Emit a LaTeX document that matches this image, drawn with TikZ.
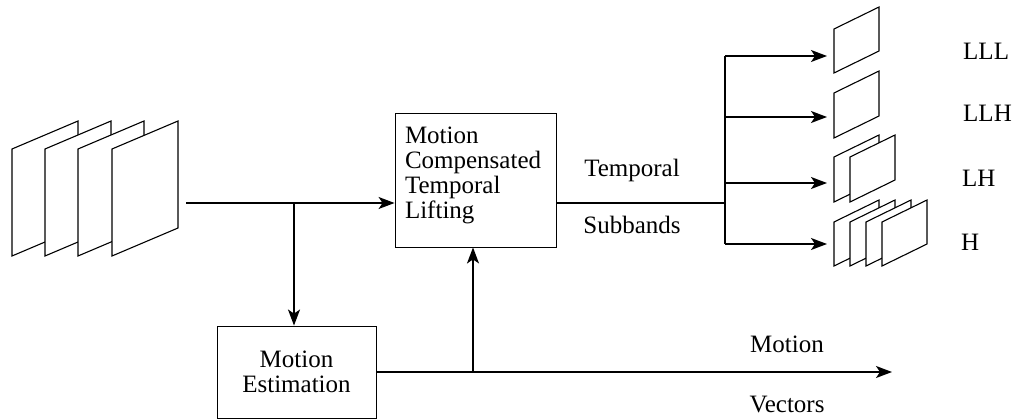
\documentclass[tikz,border=0pt]{standalone}
\usepackage{fontspec}
\setmainfont{Liberation Serif}
\usetikzlibrary{arrows.meta}
\usetikzlibrary{calc}

\tikzset{
  blockbox/.style={draw, line width=0.9pt, fill=white, inner sep=0pt,
    font=\fontsize{25}{25}\selectfont},
  flow/.style={line width=1.5pt, -{Stealth[length=16pt,width=12pt,inset=4pt]}},
  wire/.style={line width=1.5pt},
  frm/.style={draw, line width=1.1pt, fill=white, line join=miter},
  lbl/.style={inner sep=0pt, font=\fontsize{25}{25}\selectfont},
}
% frame seen in perspective: x, y of top left corner, width, height, skew
\newcommand{\vframe}[5]{%
  \filldraw[frm] (#1,#2) -- ++(#3,-#5) -- ++(0,#4) -- ++(-#3,#5) -- cycle;}

\begin{document}
\begin{tikzpicture}[x=1pt,y=-1pt]
\useasboundingbox (0,0) rectangle (1019,419);

%%%%%%%%%%%%%%%%%%%%%%%%%%%%%%%%%%%%%%%%%%%%%%%%%%%%%%%%%%%%%% Input frames
\foreach \fx in {12,45,78,112}
  \vframe{\fx}{149}{66}{107}{28};

%%%%%%%%%%%%%%%%%%%%%%%%%%%%%%%%%%%%%%%%%%%%%%%%%%%%%%%%%%%%%% Blocks
\node[blockbox, minimum width=161pt, minimum height=134pt, text width=141pt,
  align=left] (mctl) at (475.5,180)
  {Motion\\Compensated\\Temporal\\Lifting\rule[-15pt]{0pt}{0pt}};
\node[blockbox, minimum width=159pt, minimum height=92pt, align=center]
  (me) at (296.5,372) {Motion\\Estimation};

%%%%%%%%%%%%%%%%%%%%%%%%%%%%%%%%%%%%%%%%%%%%%%%%%%%%%%%%%%%%%% Connectors
\coordinate (src) at (186,203);
\coordinate (tap) at (294,203);
\coordinate (mvtap) at (473,372);
\coordinate (mvend) at (892,372);
\coordinate (split) at (725,203);
\coordinate (bustop) at (725,56);
\coordinate (busbot) at (725,244);

\draw[flow] (src) -- (src -| mctl.west);
\draw[flow] (tap) -- (tap |- me.north);
\draw[flow] (me.east) -- (mvend);
\draw[flow] (mvtap) -- (mvtap |- mctl.south);
\draw[wire] (split -| mctl.east) -- (split);
\draw[wire] (bustop) -- (busbot);

% subband outputs
\foreach \by [count=\i] in {56,117,183,244} {
  \coordinate (b\i) at (725,\by);
  \coordinate (t\i) at (827,\by);
  \draw[flow] (b\i) -- (t\i);
}

%%%%%%%%%%%%%%%%%%%%%%%%%%%%%%%%%%%%%%%%%%%%%%%%%%%%%%%%%%%%%% Subband frames
\vframe{834}{29}{45}{44}{22}
\vframe{834}{93}{45}{45}{22}
\foreach \fx in {834,850}
  \vframe{\fx}{157}{45}{45}{22};
\foreach \fx in {834,850,866,882}
  \vframe{\fx}{222}{45}{44}{22};

%%%%%%%%%%%%%%%%%%%%%%%%%%%%%%%%%%%%%%%%%%%%%%%%%%%%%%%%%%%%%% Labels
\node[lbl, anchor=base] (temp) at (632,176.5) {Temporal};
\node[lbl, anchor=base] (subb) at (632,234) {Subbands};
\node[lbl, anchor=base] (motn) at (787,352) {Motion};
\node[lbl, anchor=base] (vect) at (787,412) {Vectors};
\node[lbl, anchor=base west] (lll) at (963,60) {LLL};
\node[lbl, anchor=base west] (llh) at (963,122) {LLH};
\node[lbl, anchor=base west] (lh) at (962,187) {LH};
\node[lbl, anchor=base west] (h) at (961,251) {H};

\end{tikzpicture}
\end{document}
